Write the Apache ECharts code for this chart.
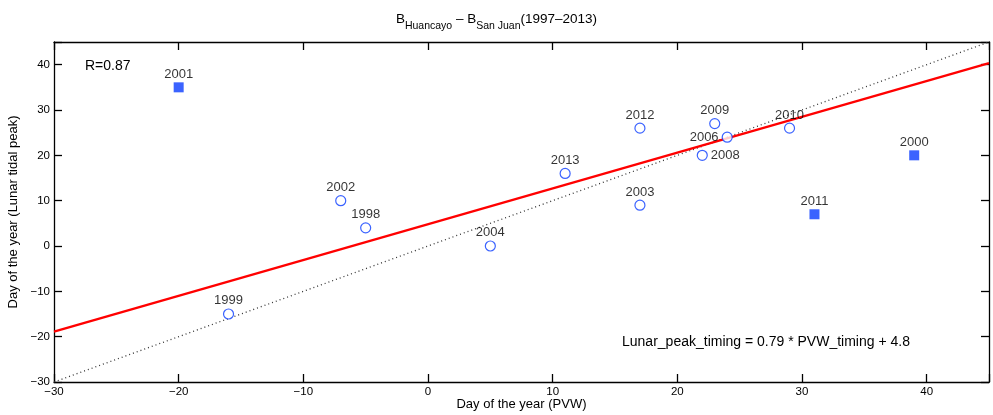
<!DOCTYPE html>
<html><head><meta charset="utf-8">
<script src="https://cdn.jsdelivr.net/npm/echarts@6/dist/echarts.min.js"></script>
<style>html,body{margin:0;padding:0;background:#fff}#c{width:993px;height:415px}</style>
</head><body><div id="c"></div>
<script>
const years = ['1998','1999','2002','2003','2004','2006','2008','2009','2010','2012','2013'];
const pvw   = [-5, -16, -7, 17, 5, 24, 22, 23, 29, 17, 11];
const lunar = [4, -15, 10, 9, 0, 24, 20, 27, 26, 26, 16];
const outYears = ['2000','2001','2011'];
const outPvw   = [39, -20, 31];
const outLunar = [20, 35, 7];
const labelPos = {'2006':'left','2008':'right'};
const fitSlope = 0.79, fitIntercept = 4.8;
const xTicks = [-30, -20, -10, 0, 10, 20, 30, 40];
const axMin = -30, axMax = 45;

const font = 'Liberation Sans, Arial, sans-serif';
const blue = '#0a3cff';
const mk = (ys, xs, vs) => ys.map((y,i)=>({name:y, value:[xs[i], vs[i]],
  label:{position: labelPos[y] || 'top', distance: labelPos[y] ? 3 : 1}}));

const chart = echarts.init(document.getElementById('c'));
const mkAxis = (extra) => Object.assign({
  type:'value', min: axMin, max: axMax, interval: 10,
  axisLine:{show:true, onZero:false, lineStyle:{color:'#000', width:1.3}},
  axisTick:{show:true, inside:true, length:8, lineStyle:{color:'#000', width:1.3}},
  splitLine:{show:false}
}, extra);
chart.setOption({
  animation:false,
  title:{text:'{n|B}{s|Huancayo}{n| – B}{s|San Juan}{n|(1997–2013)}', left:'center', top:5,
    textStyle:{fontWeight:'normal', rich:{n:{fontSize:13.5, fontFamily:font, fontWeight:'normal', color:'#000', verticalAlign:'bottom', lineHeight:16},
      s:{fontSize:10.5, fontFamily:font, fontWeight:'normal', color:'#000', verticalAlign:'bottom', padding:[0,0,-6,0], lineHeight:16}}}},
  grid:{left:54, right:4, top:42, bottom:33, outerBoundsMode:'none', containLabel:false},
  xAxis:[
    mkAxis({position:'bottom', name:'Day of the year (PVW)', nameLocation:'middle', nameGap:16, nameMoveOverlap:false,
      nameTextStyle:{fontSize:13, fontFamily:font, color:'#000'},
      axisLabel:{fontSize:11.5, fontFamily:font, color:'#000', margin:4,
        formatter:v=> xTicks.includes(v) ? String(v).replace('-', '−') : ''}}),
    mkAxis({position:'top', axisLabel:{show:false}})
  ],
  yAxis:[
    mkAxis({position:'left', name:'Day of the year (Lunar tidal peak)', nameLocation:'middle', nameGap:32,
      nameTextStyle:{fontSize:13, fontFamily:font, color:'#000'},
      axisLabel:{fontSize:11.5, fontFamily:font, color:'#000', margin:4,
        formatter:v=> v <= 40 ? String(v).replace('-', '−') : ''}}),
    mkAxis({position:'right', axisLabel:{show:false}})
  ],
  series:[
    {type:'line', data:[[axMin, axMin],[axMax, axMax]], symbol:'none', silent:true,
      lineStyle:{color:'#333', width:1.3, type:[1,3]}, z:1},
    {type:'line', data:[[axMin, fitSlope*axMin+fitIntercept],[axMax, fitSlope*axMax+fitIntercept]], symbol:'none', silent:true,
      lineStyle:{color:'#ff0000', width:2.2}, z:2},
    {type:'scatter', data:mk(years, pvw, lunar), symbol:'circle', symbolSize:10,
      itemStyle:{color:'#fff', borderColor:blue, borderWidth:1.2}, z:3,
      label:{show:true, formatter:p=>p.name, color:'#000', fontSize:13, fontFamily:font}},
    {type:'scatter', data:mk(outYears, outPvw, outLunar), symbol:'rect', symbolSize:10,
      itemStyle:{color:blue}, z:3,
      label:{show:true, formatter:p=>p.name, color:'#000', fontSize:13, fontFamily:font}}
  ],
  graphic:[
    {type:'text', left:85, top:59, style:{text:'R=0.87', font:'14px '+font, fill:'#000'}},
    {type:'text', left:622, top:335, style:{text:'Lunar_peak_timing = 0.79 * PVW_timing + 4.8', font:'14px '+font, fill:'#000'}}
  ]
});
</script></body></html>
